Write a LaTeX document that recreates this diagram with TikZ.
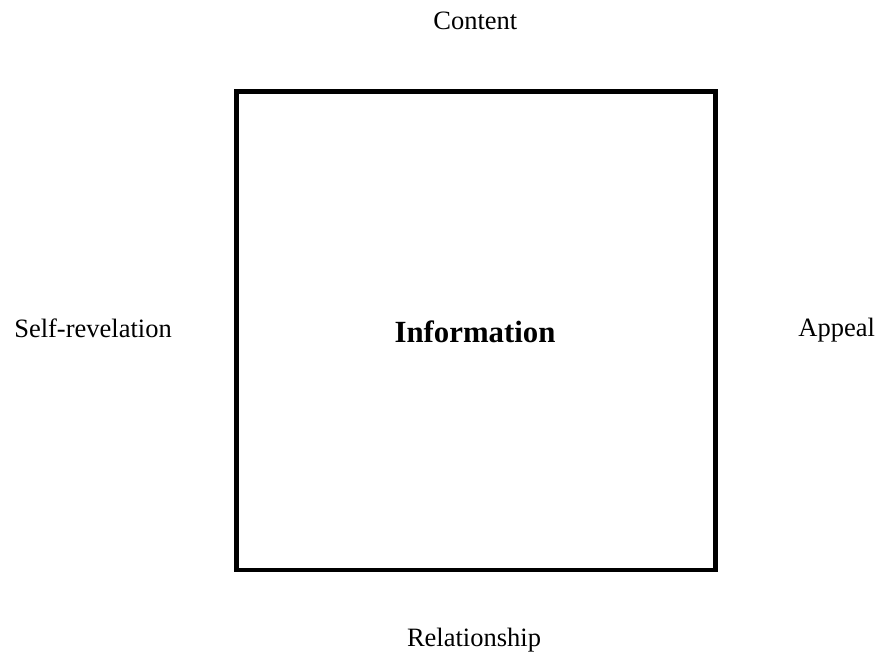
\documentclass[tikz,border=0pt]{standalone}
\usepackage{fontspec}
\setmainfont{Liberation Serif}
\begin{document}
\begin{tikzpicture}[x=1pt,y=-1pt,
  label text/.style={anchor=base,inner sep=0pt,font=\fontsize{26.5}{30}\selectfont},
  frame box/.style={draw,line width=4.5pt,minimum width=479pt,minimum height=478.5pt,inner sep=0pt,outer sep=0pt},
  center text/.style={anchor=base,inner sep=0pt,font=\fontsize{30.8}{34}\selectfont\bfseries}]
  \useasboundingbox (0,0) rectangle (877,657);
  \node[frame box] (box) at (476,330.75) {};
  \node[center text] (info) at (475,342.7) {Information};
  \node[label text] (content) at (475.3,29) {Content};
  \node[label text] (self) at (93,337) {Self-revelation};
  \node[label text] (appeal) at (836.7,336.7) {Appeal};
  \node[label text] (rel) at (474,646) {Relationship};
\end{tikzpicture}
\end{document}
